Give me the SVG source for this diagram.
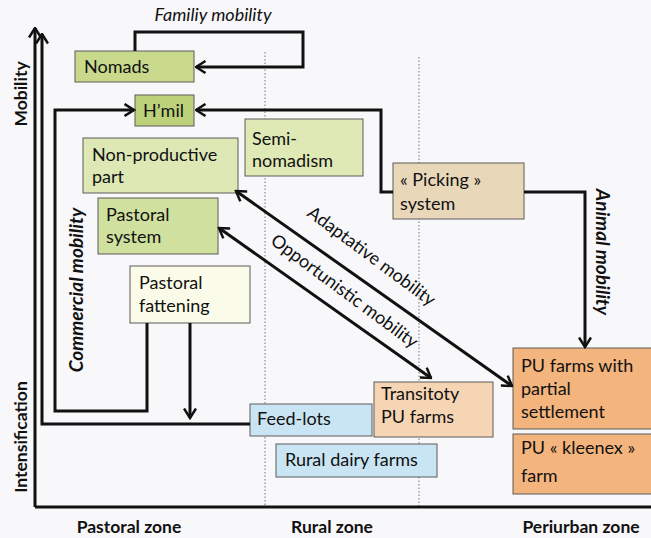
<svg xmlns="http://www.w3.org/2000/svg" width="651" height="538" viewBox="0 0 651 538">
<style>
.bg{fill:#f8f8fa}
.box{stroke:#5a5a5a;stroke-width:1}
.t{font-family:Lato,"Open Sans",sans-serif;font-size:18px;fill:#111}
.ax{font-family:Lato,"Open Sans",sans-serif;font-size:17.5px;font-weight:bold;fill:#111}
.lbl{font-family:Lato,"Open Sans",sans-serif;font-size:18px;fill:#111}
.it{font-style:italic}
.bi{font-style:italic;font-weight:bold;font-size:19px}
.ln{fill:none;stroke:#111;stroke-width:3}
.dot{fill:none;stroke:#777;stroke-width:1;stroke-dasharray:1.5 2}
</style>
<defs>
<marker id="ar" viewBox="0 0 12 14" refX="10.5" refY="7" markerWidth="12" markerHeight="14" markerUnits="userSpaceOnUse" orient="auto-start-reverse">
<path d="M1,1 L10.5,7 L1,13" fill="none" stroke="#111" stroke-width="2.5"/>
</marker>
</defs>
<rect class="bg" x="0" y="0" width="651" height="538"/>
<g id="zones">
<line class="dot" x1="265" y1="52" x2="265" y2="507"/>
<line class="dot" x1="419" y1="57" x2="419" y2="507"/>
</g>
<g id="nomads"><rect class="box" x="75" y="51" width="119" height="31" fill="#c9d98b"/><text class="t" x="84" y="73">Nomads</text></g>
<g id="hmil"><rect class="box" x="135" y="95" width="59" height="31" fill="#bcd179"/><text class="t" x="143" y="117">H’mil</text></g>
<g id="semi"><rect class="box" x="245" y="119" width="118" height="57" fill="#dfe9b6"/><text class="t" x="252" y="145">Semi-</text><text class="t" x="252" y="167">nomadism</text></g>
<g id="nonprod"><rect class="box" x="83" y="138" width="155" height="55" fill="#dde8b4"/><text class="t" x="92" y="161">Non-productive</text><text class="t" x="92" y="183">part</text></g>
<g id="pastsys"><rect class="box" x="98" y="198" width="120" height="56" fill="#cfe09f"/><text class="t" x="106" y="221">Pastoral</text><text class="t" x="106" y="243">system</text></g>
<g id="fatten"><rect class="box" x="130" y="266" width="120" height="57" fill="#fbfbea"/><text class="t" x="139" y="289">Pastoral</text><text class="t" x="139" y="312">fattening</text></g>
<g id="picking"><rect class="box" x="393" y="163" width="131" height="56" fill="#e9d7ba"/><text class="t" x="400" y="186">« Picking »</text><text class="t" x="400" y="210">system</text></g>
<g id="feedlots"><rect class="box" x="250" y="404" width="122" height="32" fill="#c9e4f2"/><text class="t" x="257" y="425">Feed-lots</text></g>
<g id="dairy"><rect class="box" x="276" y="444" width="161" height="33" fill="#c9e4f2"/><text class="t" x="285" y="466">Rural dairy farms</text></g>
<g id="transit"><rect class="box" x="374" y="382" width="119" height="55" fill="#f6d5b4"/><text class="t" x="381" y="400">Transitoty</text><text class="t" x="381" y="423">PU farms</text></g>
<g id="pupartial"><rect class="box" x="513" y="348" width="140" height="81" fill="#f3b47d"/><text class="t" x="521" y="372">PU farms with</text><text class="t" x="521" y="395">partial</text><text class="t" x="521" y="418">settlement</text></g>
<g id="kleenex"><rect class="box" x="513" y="434" width="140" height="60" fill="#f3b47d"/><text class="t" x="521" y="454">PU « kleenex »</text><text class="t" x="521" y="482">farm</text></g>
<g id="connectors">
<polyline class="ln" points="35,507 651,507"/>
<polyline class="ln" points="35,507 35,28" marker-end="url(#ar)"/>
<polyline class="ln" points="250,424 42,424 42,34" marker-end="url(#ar)"/>
<polyline class="ln" points="147,323 147,411 55,411 55,110 134,110" marker-end="url(#ar)"/>
<polyline class="ln" points="190,323 190,418" marker-end="url(#ar)"/>
<polyline class="ln" points="135,51 135,32 303,32 303,67 196,67" marker-end="url(#ar)"/>
<polyline class="ln" points="393,192 381,192 381,110 196,110" marker-end="url(#ar)"/>
<polyline class="ln" points="524,192 585,192 585,347" marker-end="url(#ar)"/>
<line class="ln" x1="236" y1="191" x2="512" y2="386" marker-start="url(#ar)" marker-end="url(#ar)"/>
<line class="ln" x1="219" y1="228" x2="431" y2="378" marker-start="url(#ar)" marker-end="url(#ar)"/>
</g>
<g id="labels">
<text class="lbl it" x="213" y="21" text-anchor="middle">Familiy mobility</text>
<text class="lbl" transform="translate(368,261) rotate(36.5)" text-anchor="middle">Adaptative mobility</text>
<text class="lbl" transform="translate(341,296) rotate(36.5)" text-anchor="middle">Opportunistic mobility</text>
<text class="lbl bi" transform="translate(83,290) rotate(-90)" text-anchor="middle">Commercial mobility</text>
<text class="lbl bi" transform="translate(596,252) rotate(90)" text-anchor="middle">Animal mobility</text>
<text class="ax" transform="translate(27,94) rotate(-90)" text-anchor="middle">Mobility</text>
<text class="ax" transform="translate(27,437) rotate(-90)" text-anchor="middle">Intensification</text>
<text class="ax" x="129" y="533" text-anchor="middle">Pastoral zone</text>
<text class="ax" x="332" y="533" text-anchor="middle">Rural zone</text>
<text class="ax" x="581" y="533" text-anchor="middle">Periurban zone</text>
</g>
</svg>
